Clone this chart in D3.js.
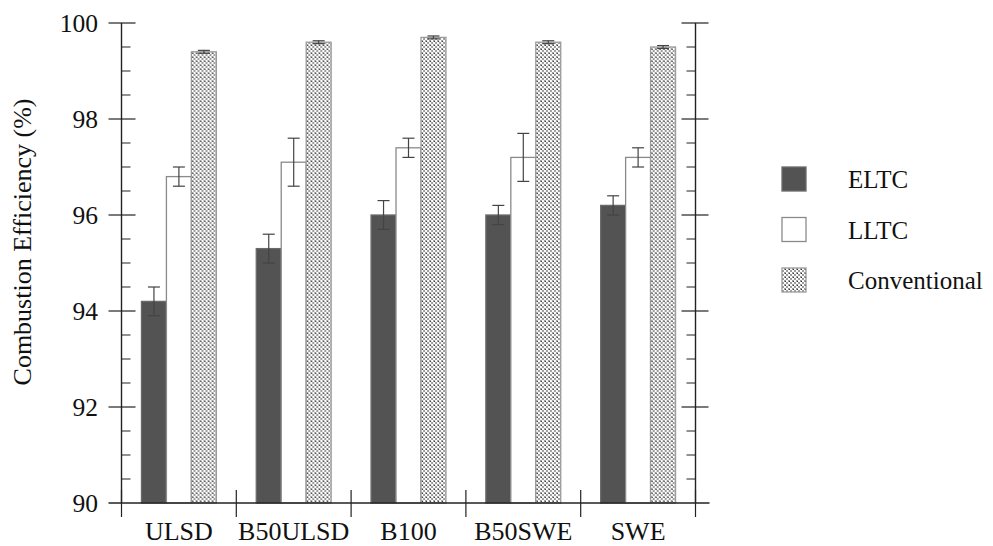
<!DOCTYPE html>
<html>
<head>
<script src="https://cdnjs.cloudflare.com/ajax/libs/d3/7.8.5/d3.min.js"></script>
<style>
  body { margin: 0; background: #fff; }
</style>
</head>
<body>
<div id="vis"></div>
<script>
  const categories = ["ULSD", "B50ULSD", "B100", "B50SWE", "SWE"];
  const seriesNames = ["ELTC", "LLTC", "Conventional"];
  const eltc = [94.2, 95.3, 96.0, 96.0, 96.2];
  const eltcErr = [0.3, 0.3, 0.3, 0.2, 0.2];
  const lltc = [96.8, 97.1, 97.4, 97.2, 97.2];
  const lltcErr = [0.2, 0.5, 0.2, 0.5, 0.2];
  const conventional = [99.4, 99.6, 99.7, 99.6, 99.5];
  const convErr = [0.03, 0.03, 0.03, 0.03, 0.03];
  const yTicks = [90, 92, 94, 96, 98, 100];

  const width = 993, height = 546;
  const svg = d3.select("#vis").append("svg")
      .attr("width", width)
      .attr("height", height);

  const serif = "'Liberation Serif', monospace";
  const textColor = "#111";
  function label(sel, size) {
    return sel.style("font-family", serif)
        .attr("font-size", size)
        .attr("fill", textColor);
  }

  // hatch fill for the conventional bars
  const defs = svg.append("defs");
  const pat = defs.append("pattern")
      .attr("id", "hatch")
      .attr("patternUnits", "userSpaceOnUse")
      .attr("width", 4).attr("height", 4);
  pat.append("rect").attr("width", 4).attr("height", 4).attr("fill", "#9c9c9c");
  pat.append("rect").attr("width", 2).attr("height", 2).attr("fill", "#fff");
  pat.append("rect").attr("x", 2).attr("y", 2).attr("width", 2).attr("height", 2).attr("fill", "#fff");
  pat.append("rect").attr("x", 3).attr("y", 1).attr("width", 1).attr("height", 1).attr("fill", "#333");

  const fills = {ELTC: "#535353", LLTC: "#fff", Conventional: "url(#hatch)"};
  const strokes = {ELTC: "#6a6a6a", LLTC: "#8a8a8a", Conventional: "#9a9a9a"};

  const plotLeft = 121.5, plotRight = 695.5, plotTop = 23, plotBottom = 503;
  const x0 = d3.scaleBand().domain(categories).range([plotLeft, plotRight]).padding(0);
  const x1 = d3.scaleBand().domain(seriesNames).range([0, x0.bandwidth()])
      .paddingInner(0).paddingOuter(0.8);
  const y = d3.scaleLinear().domain([90, 100]).range([plotBottom, plotTop]);

  const rows = categories.map((c, i) => ({
    cat: c,
    vals: [
      {s: "ELTC", v: eltc[i], e: eltcErr[i]},
      {s: "LLTC", v: lltc[i], e: lltcErr[i]},
      {s: "Conventional", v: conventional[i], e: convErr[i]}
    ]
  }));

  const groups = svg.append("g").selectAll("g")
      .data(rows)
      .join("g")
      .attr("transform", d => "translate(" + x0(d.cat) + ",0)");

  groups.selectAll("rect")
      .data(d => d.vals)
      .join("rect")
      .attr("x", d => x1(d.s))
      .attr("y", d => y(d.v))
      .attr("width", x1.bandwidth())
      .attr("height", d => y(90) - y(d.v))
      .attr("fill", d => fills[d.s])
      .attr("stroke", d => strokes[d.s])
      .attr("stroke-width", 1.3);

  // error bars
  const cap = 6;
  const eb = groups.selectAll("g.err")
      .data(d => d.vals)
      .join("g")
      .attr("class", "err")
      .attr("stroke", "#444")
      .attr("stroke-width", 1.2);
  const cx = d => x1(d.s) + x1.bandwidth() / 2;
  eb.append("line").attr("x1", cx).attr("x2", cx)
      .attr("y1", d => y(d.v + d.e)).attr("y2", d => y(d.v - d.e));
  eb.append("line").attr("x1", d => cx(d) - cap).attr("x2", d => cx(d) + cap)
      .attr("y1", d => y(d.v + d.e)).attr("y2", d => y(d.v + d.e));
  eb.append("line").attr("x1", d => cx(d) - cap).attr("x2", d => cx(d) + cap)
      .attr("y1", d => y(d.v - d.e)).attr("y2", d => y(d.v - d.e));

  // axes
  const axisColor = "#222";
  const minorTicks = d3.range(90, 100.01, 0.5);
  const axes = svg.append("g").attr("stroke", axisColor).attr("stroke-width", 1.4);
  axes.append("line").attr("x1", plotLeft).attr("x2", plotLeft).attr("y1", y(90)).attr("y2", y(100));
  axes.append("line").attr("x1", plotRight).attr("x2", plotRight).attr("y1", y(90)).attr("y2", y(100));
  axes.append("line").attr("x1", plotLeft - 13).attr("x2", plotRight + 14).attr("y1", y(90)).attr("y2", y(90));

  axes.selectAll("line.minL")
      .data(minorTicks.filter(v => !yTicks.includes(v)))
      .join("line")
      .attr("class", "minL")
      .attr("stroke-width", 1)
      .attr("x1", plotLeft).attr("x2", plotLeft + 9)
      .attr("y1", d => y(d)).attr("y2", d => y(d));
  axes.selectAll("line.minR")
      .data(minorTicks.filter(v => !yTicks.includes(v)))
      .join("line")
      .attr("class", "minR")
      .attr("stroke-width", 1)
      .attr("x1", plotRight - 9).attr("x2", plotRight)
      .attr("y1", d => y(d)).attr("y2", d => y(d));
  axes.selectAll("line.majL")
      .data(yTicks.filter(v => v > 90))
      .join("line")
      .attr("class", "majL")
      .attr("stroke-width", 1.2)
      .attr("x1", plotLeft - 13).attr("x2", plotLeft + 14)
      .attr("y1", d => y(d)).attr("y2", d => y(d));
  axes.selectAll("line.majR")
      .data(yTicks.filter(v => v > 90))
      .join("line")
      .attr("class", "majR")
      .attr("stroke-width", 1.2)
      .attr("x1", plotRight - 14).attr("x2", plotRight + 13)
      .attr("y1", d => y(d)).attr("y2", d => y(d));

  const bounds = categories.map(c => x0(c)).concat([x0(categories[categories.length - 1]) + x0.bandwidth()]);
  axes.selectAll("line.sep")
      .data(bounds)
      .join("line")
      .attr("class", "sep")
      .attr("stroke-width", 1.2)
      .attr("x1", d => d).attr("x2", d => d)
      .attr("y1", y(90) - 13).attr("y2", y(90) + 14);

  svg.append("g").selectAll("text")
      .data(yTicks)
      .join("text")
      .attr("x", 98)
      .attr("y", d => y(d))
      .attr("dy", "0.34em")
      .attr("text-anchor", "end")
      .call(label, 25.5)
      .text(d => d);

  svg.append("g").selectAll("text")
      .data(categories)
      .join("text")
      .attr("x", d => x0(d) + x0.bandwidth() / 2)
      .attr("y", 540)
      .attr("text-anchor", "middle")
      .call(label, 26)
      .text(d => d);

  svg.append("text")
      .attr("transform", "translate(31,242) rotate(-90)")
      .attr("text-anchor", "middle")
      .call(label, 26)
      .text("Combustion Efficiency (%)");

  // legend
  const legend = svg.append("g").selectAll("g")
      .data(seriesNames)
      .join("g")
      .attr("transform", (d, i) => "translate(782," + (167 + i * 50.5) + ")");
  legend.append("rect")
      .attr("width", 24).attr("height", 24)
      .attr("fill", d => fills[d])
      .attr("stroke", d => strokes[d])
      .attr("stroke-width", 1.3);
  legend.append("text")
      .attr("x", 66).attr("y", 21)
      .call(label, 25)
      .text(d => d);
</script>
</body>
</html>
